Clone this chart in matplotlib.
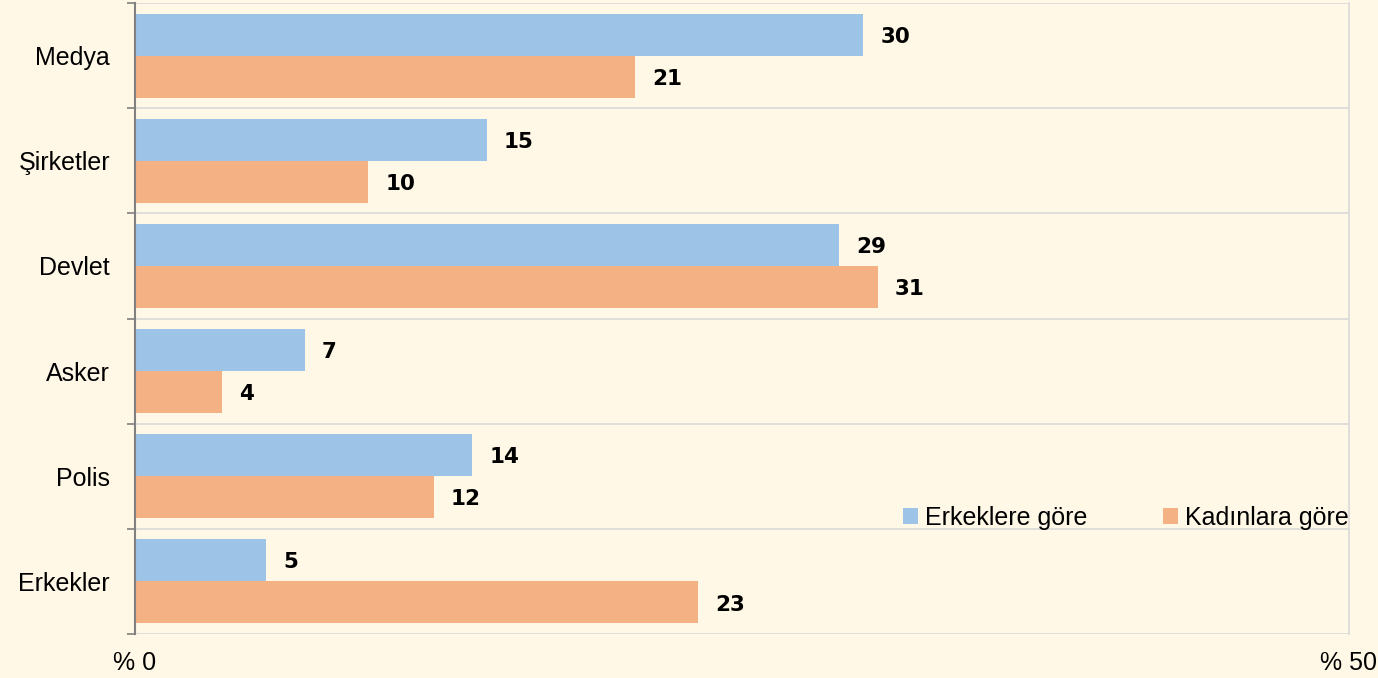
import numpy as np
import matplotlib.pyplot as plt
from matplotlib.ticker import FixedLocator

categories = ["Medya", "Şirketler", "Devlet", "Asker", "Polis", "Erkekler"]
# bar lengths (unrounded) and the rounded labels shown on the chart
erkek = [30.0, 14.5, 29.0, 7.0, 13.9, 5.4]
kadin = [20.6, 9.6, 30.6, 3.6, 12.3, 23.2]
erkek_lbl = ["30", "15", "29", "7", "14", "5"]
kadin_lbl = ["21", "10", "31", "4", "12", "23"]
series_names = ["Erkeklere göre", "Kadınlara göre"]

bg = "#FFF8E6"
blue = "#9DC3E6"
orange = "#F4B183"
grid_c = "#D9D9D9"

plt.rcParams["font.family"] = ["Liberation Sans", "DejaVu Sans"]

fig = plt.figure(figsize=(13.78, 6.78), dpi=100, facecolor=bg)
ax = fig.add_axes([135 / 1378, 1 - 634 / 678, (1349 - 135) / 1378, 631 / 678])
ax.set_facecolor(bg)

y = np.arange(len(categories))
h = 0.4
b1 = ax.barh(y - h / 2, erkek, height=h, color=blue, label=series_names[0], zorder=3)
b2 = ax.barh(y + h / 2, kadin, height=h, color=orange, label=series_names[1], zorder=3)

for bars, labels in ((b1, erkek_lbl), (b2, kadin_lbl)):
    for bar, t in zip(bars, labels):
        ax.text(bar.get_width() + 0.7, bar.get_y() + bar.get_height() / 2 + 0.02, t,
                va="center", ha="left", fontsize=15.5, fontweight="heavy",
                family="DejaVu Sans", color="black", zorder=4)

ax.set_xlim(0, 50)
ax.set_ylim(len(categories) - 0.5, -0.5)

# horizontal separators between categories
for b in np.arange(-0.5, len(categories), 1.0):
    ax.axhline(b, color=grid_c, lw=1.2, zorder=1)

ax.set_yticks(y)
ax.set_yticklabels(categories, fontsize=18)
ax.yaxis.set_minor_locator(FixedLocator(np.arange(-0.5, len(categories), 1.0)))
ax.tick_params(axis="y", which="major", length=0, pad=18)
ax.tick_params(axis="y", which="minor", length=6, width=1.2, color="#808080", direction="out")

ax.set_xticks([0, 50])
ax.set_xticklabels(["% 0", "% 50"], fontsize=18)
ax.tick_params(axis="x", length=0, pad=12)

for s in ("top", "bottom"):
    ax.spines[s].set_visible(False)
ax.spines["right"].set_color(grid_c)
ax.spines["right"].set_linewidth(1.2)
ax.spines["left"].set_color("#808080")
ax.spines["left"].set_linewidth(1.5)
ax.spines["left"].set_zorder(5)

ax.legend(loc="center right", bbox_to_anchor=(1.0, 0.184), ncol=2, frameon=False,
          fontsize=18, handlelength=0.6, handleheight=0.6, handletextpad=0.3,
          columnspacing=3.0, borderaxespad=0, borderpad=0)

fig.savefig("out.png", dpi=100, facecolor=bg)
